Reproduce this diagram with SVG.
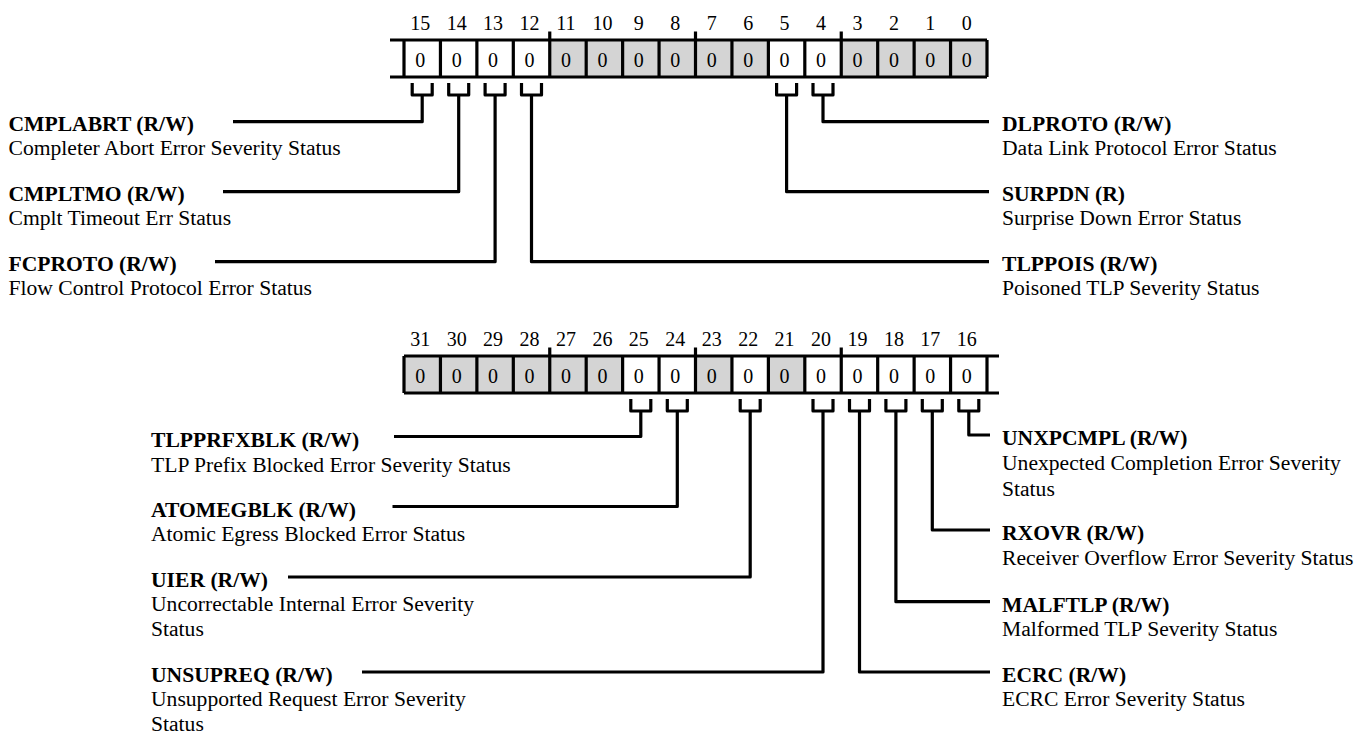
<svg xmlns="http://www.w3.org/2000/svg" width="1362" height="735" viewBox="0 0 1362 735">
<style>
text{font-family:"Liberation Serif","Times New Roman",serif;fill:#000}
.num{font-size:20px;text-anchor:middle}
.b{font-size:21.6px;font-weight:bold}
.d{font-size:21.6px}
.g{fill:#d4d4d4}
.w{fill:#fff}
.frame{fill:none;stroke:#000;stroke-width:3.2;stroke-linecap:butt}
.con{fill:none;stroke:#000;stroke-width:3.2;stroke-linejoin:round;stroke-linecap:butt}
</style>
<rect width="1362" height="735" fill="#fff"/>

<g id="register-15-0">
  <g>
    <rect class="w" x="404" y="40" width="36.44" height="37"/>
    <rect class="w" x="440.44" y="40" width="36.44" height="37"/>
    <rect class="w" x="476.88" y="40" width="36.44" height="37"/>
    <rect class="w" x="513.31" y="40" width="36.44" height="37"/>
    <rect class="g" x="549.75" y="40" width="36.44" height="37"/>
    <rect class="g" x="586.19" y="40" width="36.44" height="37"/>
    <rect class="g" x="622.63" y="40" width="36.44" height="37"/>
    <rect class="g" x="659.06" y="40" width="36.44" height="37"/>
    <rect class="g" x="695.5" y="40" width="36.44" height="37"/>
    <rect class="g" x="731.94" y="40" width="36.44" height="37"/>
    <rect class="w" x="768.38" y="40" width="36.44" height="37"/>
    <rect class="w" x="804.81" y="40" width="36.44" height="37"/>
    <rect class="g" x="841.25" y="40" width="36.44" height="37"/>
    <rect class="g" x="877.69" y="40" width="36.44" height="37"/>
    <rect class="g" x="914.13" y="40" width="36.44" height="37"/>
    <rect class="g" x="950.56" y="40" width="36.44" height="37"/>
  </g>
  <path class="frame" d="M390,40H987M390,77H987M404,40V77M440.44,40V77M476.88,40V77M513.31,40V77M549.75,31.5V77M586.19,40V77M622.63,40V77M659.06,40V77M695.5,31.5V77M731.94,40V77M768.38,40V77M804.81,40V77M841.25,31.5V77M877.69,40V77M914.13,40V77M950.56,40V77M987,40V77"/>
  <g class="num">
    <text x="420.2" y="30">15</text><text x="456.7" y="30">14</text><text x="493.1" y="30">13</text><text x="529.5" y="30">12</text>
    <text x="566" y="30">11</text><text x="602.4" y="30">10</text><text x="638.8" y="30">9</text><text x="675.3" y="30">8</text>
    <text x="711.7" y="30">7</text><text x="748.2" y="30">6</text><text x="784.6" y="30">5</text><text x="821" y="30">4</text>
    <text x="857.5" y="30">3</text><text x="893.9" y="30">2</text><text x="930.3" y="30">1</text><text x="966.8" y="30">0</text>
  </g>
  <g class="num">
    <text x="420.2" y="66.5">0</text><text x="456.7" y="66.5">0</text><text x="493.1" y="66.5">0</text><text x="529.5" y="66.5">0</text>
    <text x="566" y="66.5">0</text><text x="602.4" y="66.5">0</text><text x="638.8" y="66.5">0</text><text x="675.3" y="66.5">0</text>
    <text x="711.7" y="66.5">0</text><text x="748.2" y="66.5">0</text><text x="784.6" y="66.5">0</text><text x="821" y="66.5">0</text>
    <text x="857.5" y="66.5">0</text><text x="893.9" y="66.5">0</text><text x="930.3" y="66.5">0</text><text x="966.8" y="66.5">0</text>
  </g>
</g>

<g id="register-31-16">
  <g>
    <rect class="g" x="404" y="356" width="36.44" height="37"/>
    <rect class="g" x="440.44" y="356" width="36.44" height="37"/>
    <rect class="g" x="476.88" y="356" width="36.44" height="37"/>
    <rect class="g" x="513.31" y="356" width="36.44" height="37"/>
    <rect class="g" x="549.75" y="356" width="36.44" height="37"/>
    <rect class="g" x="586.19" y="356" width="36.44" height="37"/>
    <rect class="w" x="622.63" y="356" width="36.44" height="37"/>
    <rect class="w" x="659.06" y="356" width="36.44" height="37"/>
    <rect class="g" x="695.5" y="356" width="36.44" height="37"/>
    <rect class="w" x="731.94" y="356" width="36.44" height="37"/>
    <rect class="g" x="768.38" y="356" width="36.44" height="37"/>
    <rect class="w" x="804.81" y="356" width="36.44" height="37"/>
    <rect class="w" x="841.25" y="356" width="36.44" height="37"/>
    <rect class="w" x="877.69" y="356" width="36.44" height="37"/>
    <rect class="w" x="914.13" y="356" width="36.44" height="37"/>
    <rect class="w" x="950.56" y="356" width="36.44" height="37"/>
  </g>
  <path class="frame" d="M404,356H999M404,393H999M404,356V393M440.44,356V393M476.88,356V393M513.31,356V393M549.75,347.5V393M586.19,356V393M622.63,356V393M659.06,356V393M695.5,347.5V393M731.94,356V393M768.38,356V393M804.81,356V393M841.25,347.5V393M877.69,356V393M914.13,356V393M950.56,356V393M987,356V393"/>
  <g class="num">
    <text x="420.2" y="346">31</text><text x="456.7" y="346">30</text><text x="493.1" y="346">29</text><text x="529.5" y="346">28</text>
    <text x="566" y="346">27</text><text x="602.4" y="346">26</text><text x="638.8" y="346">25</text><text x="675.3" y="346">24</text>
    <text x="711.7" y="346">23</text><text x="748.2" y="346">22</text><text x="784.6" y="346">21</text><text x="821" y="346">20</text>
    <text x="857.5" y="346">19</text><text x="893.9" y="346">18</text><text x="930.3" y="346">17</text><text x="966.8" y="346">16</text>
  </g>
  <g class="num">
    <text x="420.2" y="382.5">0</text><text x="456.7" y="382.5">0</text><text x="493.1" y="382.5">0</text><text x="529.5" y="382.5">0</text>
    <text x="566" y="382.5">0</text><text x="602.4" y="382.5">0</text><text x="638.8" y="382.5">0</text><text x="675.3" y="382.5">0</text>
    <text x="711.7" y="382.5">0</text><text x="748.2" y="382.5">0</text><text x="784.6" y="382.5">0</text><text x="821" y="382.5">0</text>
    <text x="857.5" y="382.5">0</text><text x="893.9" y="382.5">0</text><text x="930.3" y="382.5">0</text><text x="966.8" y="382.5">0</text>
  </g>
</g>

<g id="connectors">
  <path class="con" d="M412.2,83V95H432.2V83M422.2,95V121.7H233"/>
  <path class="con" d="M448.7,83V95H468.7V83M458.7,95V191.7H223"/>
  <path class="con" d="M485.1,83V95H505.1V83M495.1,95V261.7H215"/>
  <path class="con" d="M521.5,83V95H541.5V83M531.5,95V261.7H989"/>
  <path class="con" d="M776.6,83V95H796.6V83M786.6,95V191.7H989"/>
  <path class="con" d="M813,83V95H833V83M823,95V121.7H989"/>

  <path class="con" d="M630.8,399V411H650.8V399M640.8,411V436.5H394"/>
  <path class="con" d="M667.3,399V411H687.3V399M677.3,411V506.5H392.5"/>
  <path class="con" d="M740.2,399V411H760.2V399M750.2,411V577H288"/>
  <path class="con" d="M813,399V411H833V399M823,411V672H362"/>
  <path class="con" d="M849.5,399V411H869.5V399M859.5,411V672H990"/>
  <path class="con" d="M885.9,399V411H905.9V399M895.9,411V601.7H990"/>
  <path class="con" d="M922.3,399V411H942.3V399M932.3,411V530H990"/>
  <path class="con" d="M958.8,399V411H978.8V399M968.8,411V435H990"/>
</g>

<g id="field-CMPLABRT"><text class="b" x="8.5" y="130.7">CMPLABRT (R/W)</text><text class="d" x="8.5" y="155.2">Completer Abort Error Severity Status</text></g>
<g id="field-CMPLTMO"><text class="b" x="8.5" y="200.7">CMPLTMO (R/W)</text><text class="d" x="8.5" y="225.2">Cmplt Timeout Err Status</text></g>
<g id="field-FCPROTO"><text class="b" x="8.5" y="270.7">FCPROTO (R/W)</text><text class="d" x="8.5" y="295.2">Flow Control Protocol Error Status</text></g>
<g id="field-DLPROTO"><text class="b" x="1002" y="130.7">DLPROTO (R/W)</text><text class="d" x="1002" y="155.2">Data Link Protocol Error Status</text></g>
<g id="field-SURPDN"><text class="b" x="1002" y="200.7">SURPDN (R)</text><text class="d" x="1002" y="225.2">Surprise Down Error Status</text></g>
<g id="field-TLPPOIS"><text class="b" x="1002" y="270.7">TLPPOIS (R/W)</text><text class="d" x="1002" y="295.2">Poisoned TLP Severity Status</text></g>

<g id="field-TLPPRFXBLK"><text class="b" x="151" y="446.5">TLPPRFXBLK (R/W)</text><text class="d" x="151" y="471.5">TLP Prefix Blocked Error Severity Status</text></g>
<g id="field-ATOMEGBLK"><text class="b" x="151" y="516.5">ATOMEGBLK (R/W)</text><text class="d" x="151" y="541">Atomic Egress Blocked Error Status</text></g>
<g id="field-UIER"><text class="b" x="151" y="586.7">UIER (R/W)</text><text class="d" x="151" y="611">Uncorrectable Internal Error Severity</text><text class="d" x="151" y="636">Status</text></g>
<g id="field-UNSUPREQ"><text class="b" x="151" y="681.7">UNSUPREQ (R/W)</text><text class="d" x="151" y="706.2">Unsupported Request Error Severity</text><text class="d" x="151" y="731">Status</text></g>

<g id="field-UNXPCMPL"><text class="b" x="1002" y="445">UNXPCMPL (R/W)</text><text class="d" x="1002" y="470">Unexpected Completion Error Severity</text><text class="d" x="1002" y="495.5">Status</text></g>
<g id="field-RXOVR"><text class="b" x="1002" y="540">RXOVR (R/W)</text><text class="d" x="1002" y="564.7">Receiver Overflow Error Severity Status</text></g>
<g id="field-MALFTLP"><text class="b" x="1002" y="611.5">MALFTLP (R/W)</text><text class="d" x="1002" y="636">Malformed TLP Severity Status</text></g>
<g id="field-ECRC"><text class="b" x="1002" y="681.7">ECRC (R/W)</text><text class="d" x="1002" y="706">ECRC Error Severity Status</text></g>
</svg>
